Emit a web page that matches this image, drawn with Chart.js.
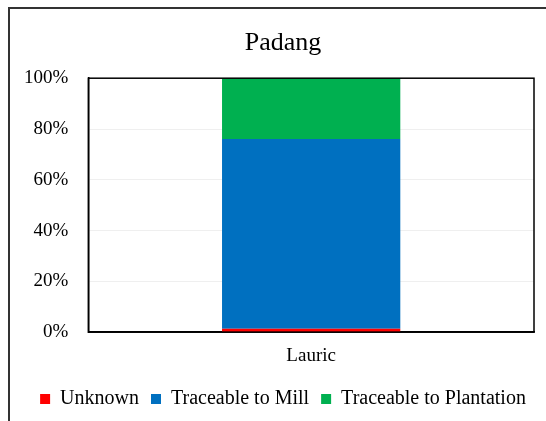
<!DOCTYPE html>
<html lang="en">
<head>
    <meta charset="UTF-8">
    <title>Padang</title>
    <script src="https://cdn.jsdelivr.net/npm/chart.js"></script>
    <style>
        body { margin: 0; background: #fff; }
        #grafico { width: 546px; height: 421px; }
    </style>
</head>
<body>
    <div id="grafico">
        <canvas id="grafico-padang" width="546" height="421"></canvas>
    </div>
    <script>
        const categorias = ['Lauric'];
        const unknown = [1.4];
        const traceableMill = [74.7];
        const traceablePlantation = [23.9];
        const ticksY = [0, 20, 40, 60, 80, 100];

        const fonte = 'Liberation Serif, Times New Roman, serif';

        // moldura externa + borda da área do gráfico
        const bordas = {
            id: 'bordas',
            afterLayout(chart) {
                // o original é centrado numa moldura mais larga: desloca título e legenda
                const t = chart.titleBlock, l = chart.legend;
                if (t) { t.left += 14; t.right += 14; t.top += 2; t.bottom += 2; }
                if (l) { l.left += 14; l.right += 14; l.top += 6; l.bottom += 6; }
            },
            beforeDraw(chart) {
                const c = chart.ctx;
                c.save();
                c.strokeStyle = '#333';
                c.lineWidth = 2;
                c.beginPath();
                c.moveTo(9, 421);
                c.lineTo(9, 8);
                c.lineTo(546, 8);
                c.stroke();
                c.restore();
            },
            afterDraw(chart) {
                const a = chart.chartArea;
                const c = chart.ctx;
                c.save();
                c.strokeStyle = '#000';
                c.lineWidth = 1.5;
                c.strokeRect(a.left, a.top, a.right - a.left, a.bottom - a.top);
                c.restore();
            }
        };

        function criarGrafico() {
            const ctx = document.getElementById('grafico-padang').getContext('2d');
            new Chart(ctx, {
                type: 'bar',
                data: {
                    labels: categorias,
                    datasets: [
                        { label: 'Unknown', data: unknown, backgroundColor: '#ff0000' },
                        { label: 'Traceable to Mill', data: traceableMill, backgroundColor: '#0070c0' },
                        { label: 'Traceable to Plantation', data: traceablePlantation, backgroundColor: '#00b050' }
                    ]
                },
                options: {
                    responsive: false,
                    animation: false,
                    layout: { padding: { left: 4, right: 12, top: 26, bottom: 8 } },
                    datasets: { bar: { categoryPercentage: 0.4, barPercentage: 1 } },
                    plugins: {
                        title: {
                            display: true,
                            text: 'Padang',
                            color: '#000',
                            font: { family: fonte, size: 26, weight: 'normal' },
                            padding: { top: 0, bottom: 21 }
                        },
                        legend: {
                            position: 'bottom',
                            labels: {
                                color: '#000',
                                boxWidth: 10,
                                boxHeight: 10,
                                padding: 12,
                                font: { family: fonte, size: 20 }
                            }
                        },
                        tooltip: { enabled: false }
                    },
                    scales: {
                        x: {
                            stacked: true,
                            grid: { display: false },
                            border: { color: '#000', width: 1.5 },
                            ticks: { color: '#000', font: { family: fonte, size: 19 }, padding: 4 }
                        },
                        y: {
                            stacked: true,
                            min: 0,
                            max: 100,
                            afterBuildTicks: axis => { axis.ticks = ticksY.map(v => ({ value: v })); },
                            grid: { color: '#efefef', drawTicks: false },
                            border: { color: '#000', width: 1.5 },
                            ticks: {
                                color: '#000',
                                padding: 20,
                                font: { family: fonte, size: 19 },
                                callback: v => v + '%'
                            }
                        }
                    }
                },
                plugins: [bordas]
            });
        }

        window.onload = criarGrafico;
    </script>
</body>
</html>
